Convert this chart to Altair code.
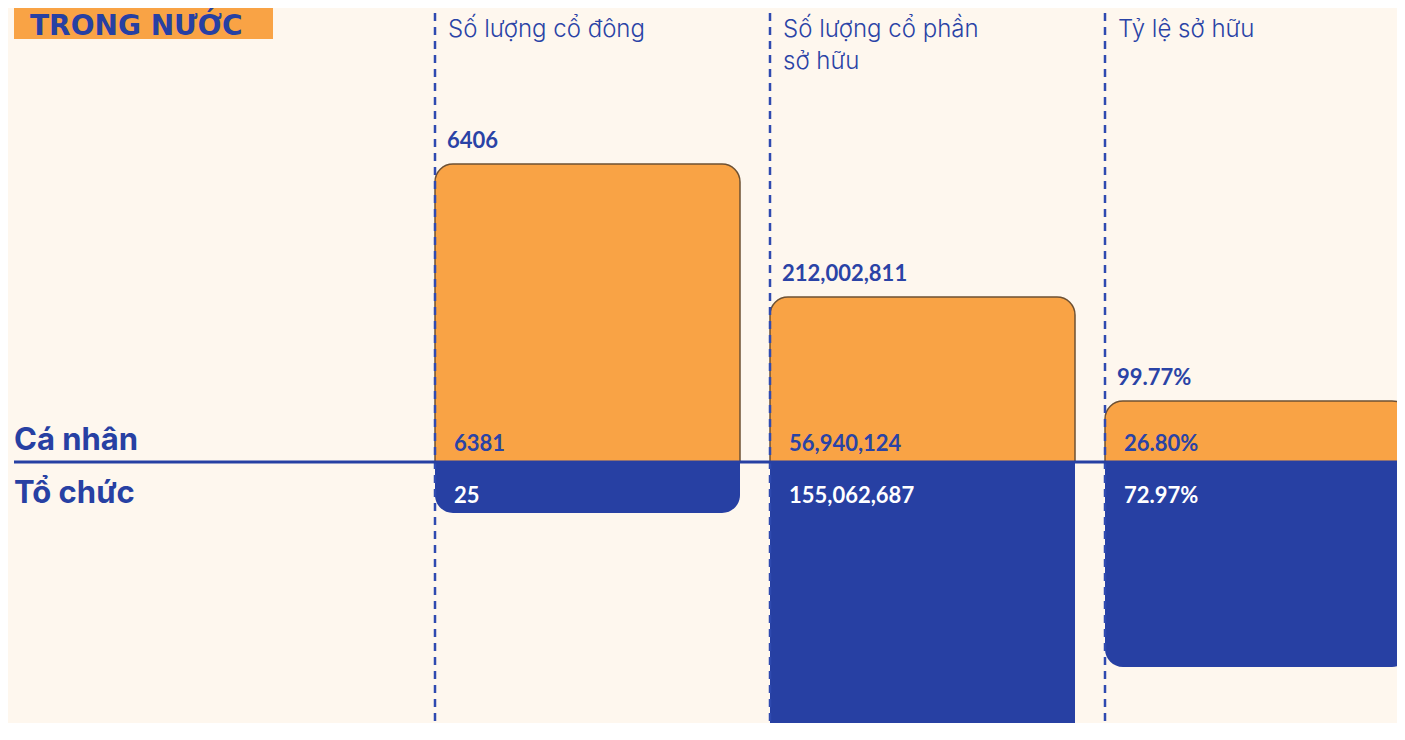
import altair as alt
import pandas as pd

# ---- data ----
panel_keys = ["p1", "p2", "p3"]
panel_titles = ["Số lượng cổ đông", "Số lượng cổ phần\nsở hữu", "Tỷ lệ sở hữu"]
total_labels = ["6406", "212,002,811", "99.77%"]
ca_nhan_labels = ["6381", "56,940,124", "26.80%"]
to_chuc_labels = ["25", "155,062,687", "72.97%"]
# relative bar heights as drawn in the infographic (tallest orange bar = 100)
ca_nhan_height = [100, 55.4, 20.5]
to_chuc_height = [17.1, 93.3, 68.8]
row_labels = ["Cá nhân", "Tổ chức"]
title_text = "TRONG NƯỚC"

ORANGE = "#F9A345"
BROWN = "#6E5133"
BLUE = "#2740A3"
TEXT_BLUE = "#2A43A6"
BG = "#FEF7EE"

W, H = 1389, 715
PX_PER_UNIT = 2.98
ZERO_Y = 454

df = pd.DataFrame({
    "key": panel_keys,
    "title": panel_titles,
    "total": total_labels,
    "up_label": ca_nhan_labels,
    "down_label": to_chuc_labels,
    "up": ca_nhan_height,
    "down": [-v for v in to_chuc_height],
    "zero": [0, 0, 0],
})

xscale = alt.Scale(domain=panel_keys, range=[427, 1402], paddingInner=30 / 335, paddingOuter=0)
yscale = alt.Scale(domain=[-(H - ZERO_Y) / PX_PER_UNIT, ZERO_Y / PX_PER_UNIT], nice=False, zero=False)

X = alt.X("key:N", scale=xscale, axis=None)
X0 = alt.X("key:N", scale=xscale, axis=None, bandPosition=0)
YZ = alt.Y("zero:Q", scale=yscale, axis=None)

base = alt.Chart(df)

rules = base.mark_rule(color="#2F4AB0", strokeWidth=2.5, strokeDash=[8, 6]).encode(
    x=X0, y=alt.value(5), y2=alt.value(H)
)

orange = base.mark_bar(
    color=ORANGE, stroke=BROWN, strokeWidth=1.5,
    cornerRadiusTopLeft=18, cornerRadiusTopRight=18,
).encode(x=X, y=alt.Y("up:Q", scale=yscale, axis=None), y2="zero:Q")

blue = base.mark_bar(
    color=BLUE,
    cornerRadiusBottomLeft=18, cornerRadiusBottomRight=18,
).encode(x=X, y=alt.Y("down:Q", scale=yscale, axis=None), y2="zero:Q")

num_font = dict(font="Lato", fontWeight="bold", fontSize=22, align="left", baseline="alphabetic")

totals = base.mark_text(color=TEXT_BLUE, dx=12, dy=-16, **num_font).encode(
    x=X0, y=alt.Y("up:Q", scale=yscale, axis=None), text="total:N"
)
up_txt = base.mark_text(color=TEXT_BLUE, dx=19, dy=-11, **num_font).encode(
    x=X0, y=YZ, text="up_label:N"
)
down_txt = base.mark_text(color="white", dx=19, dy=41, **num_font).encode(
    x=X0, y=YZ, text="down_label:N"
)

headers = base.mark_text(
    color=TEXT_BLUE, font="Inter", fontWeight=300, fontSize=24,
    align="left", baseline="alphabetic", dx=13, lineBreak="\n", lineHeight=32,
).encode(x=X0, y=alt.value(29), text="title:N")

row_df = pd.DataFrame({"label": row_labels, "zero": [0, 0]})
row_font = dict(font="Inter", fontWeight="bold", fontSize=31, color=BLUE, align="left", baseline="alphabetic")
row1 = alt.Chart(row_df.iloc[[0]]).mark_text(dy=-12, **row_font).encode(
    x=alt.value(6), y=YZ, text="label:N"
)
row2 = alt.Chart(row_df.iloc[[1]]).mark_text(dy=41, **row_font).encode(
    x=alt.value(6), y=YZ, text="label:N"
)

baseline = alt.Chart(row_df.iloc[[0]]).mark_rule(color=BLUE, strokeWidth=3).encode(
    x=alt.value(6), x2=alt.value(W), y=YZ
)

title_df = pd.DataFrame({"label": [title_text]})
title_box = alt.Chart(title_df).mark_rect(color=ORANGE).encode(
    x=alt.value(6), x2=alt.value(265), y=alt.value(0), y2=alt.value(31)
)
title = alt.Chart(title_df).mark_text(
    font="DejaVu Sans", fontWeight="bold", fontSize=28, color=BLUE,
    align="left", baseline="alphabetic",
).encode(x=alt.value(22), y=alt.value(27), text="label:N")

chart = alt.layer(
    orange, blue, rules, baseline, totals, up_txt, down_txt, headers, row1, row2, title_box, title
).properties(
    width=W, height=H, padding=0, autosize=alt.AutoSizeParams(type="none"), background=BG
).configure_view(stroke=None)

chart.save("out.html", embed_options={"renderer": "svg", "actions": False})
